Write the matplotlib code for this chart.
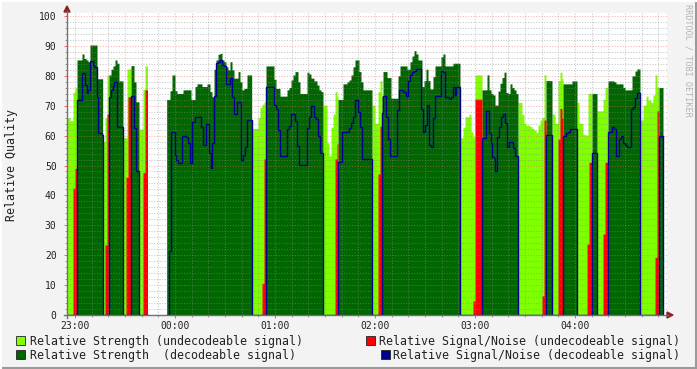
import numpy as np
import matplotlib
matplotlib.use("Agg")
import matplotlib.pyplot as plt
from matplotlib.patches import Rectangle, Polygon
from matplotlib.lines import Line2D

# ---------------- data (time = minutes after 23:00) ----------------
seg_start = [-4.8, 1.2, 16.6, 20.4, 28.8, 33.6, 38.4, 55.0, 106.0, 114.6, 148.8, 157.8, 178.2,
             184.2, 231.0, 244.2, 265.8, 282.6, 286.2, 292.8, 301.2, 310.2, 313.2, 319.8, 339.0, 350.4]
seg_end = [1.2, 16.6, 20.4, 28.8, 33.6, 38.4, 43.5, 106.0, 114.6, 148.8, 157.8, 178.2, 184.2,
           231.0, 244.2, 265.8, 282.6, 286.2, 292.8, 301.2, 310.2, 313.2, 319.8, 339.0, 350.4, 352.8]
seg_decodeable = [0, 1, 0, 1, 0, 1, 0, 1, 0, 1, 0, 1, 0, 1, 0, 1, 0, 1, 0, 1, 0, 1, 0, 1, 0, 1]

strength_t = [-4.8, -3.0, -1.2, 0.0, 1.2, 4.2, 5.4, 6.6, 7.8, 9.0, 13.2, 16.6, 18.0, 19.2, 20.4,
              21.6, 22.8, 24.0, 25.2, 26.4, 28.8, 31.2, 33.6, 35.4, 36.6, 38.4, 40.8, 42.0, 43.5,
              55.0, 57.0, 58.2, 60.0, 61.2, 64.8, 69.6, 72.0, 73.2, 76.2, 79.2, 81.0, 82.2, 83.4,
              84.6, 85.8, 87.0, 88.2, 89.4, 90.6, 91.8, 93.0, 94.2, 95.4, 97.8, 99.0, 100.2, 101.4,
              103.2, 106.0, 109.8, 111.0, 112.2, 113.4, 114.6, 119.4, 120.6, 123.0, 127.2, 128.4,
              129.6, 130.8, 132.0, 133.8, 135.0, 139.2, 140.4, 141.6, 143.4, 145.2, 146.4, 147.6,
              148.8, 151.2, 152.4, 153.6, 154.8, 156.0, 157.2, 157.8, 160.8, 163.2, 164.4, 165.6,
              166.8, 168.0, 170.4, 171.6, 172.8, 178.2, 180.0, 181.8, 183.0, 184.2, 184.8, 187.2,
              189.6, 193.8, 195.0, 199.2, 201.0, 202.2, 203.4, 204.6, 205.8, 208.2, 209.4, 210.6,
              211.8, 213.0, 214.8, 216.0, 219.6, 220.8, 222.0, 226.8, 231.0, 232.8, 234.0, 236.4,
              237.6, 238.8, 240.0, 244.2, 247.2, 248.4, 249.6, 250.8, 252.0, 253.8, 255.0, 256.2,
              257.4, 258.6, 259.8, 261.0, 262.2, 263.4, 264.6, 265.8, 268.2, 269.4, 270.6, 273.0,
              274.2, 275.4, 276.6, 277.8, 279.0, 280.2, 281.4, 282.6, 286.2, 288.0, 289.8, 291.0,
              292.2, 292.8, 298.2, 301.2, 302.4, 304.8, 306.0, 307.8, 313.2, 316.8, 318.0, 319.8,
              323.4, 324.6, 328.8, 330.0, 334.2, 336.0, 337.2, 339.0, 340.8, 342.6, 343.8, 345.6,
              346.8, 348.0, 349.2, 352.8]
strength_v = [66, 65, 74.5, 76, 85.3, 87.3, 85.8, 85.3, 84.7, 90.3, 79, 58, 66, 80.3, 80.3,
              82.2, 83.3, 85.3, 84.2, 78.3, 59.3, 82.3, 83.4, 78, 71.3, 62.2, 75.5, 83.3, np.nan,
              72.1, 75, 80.3, 75, 74.1, 75.3, 72.1, 76.4, 77.3, 76.4, 77.3, 74.7, 73, 82.2,
              85.3, 87.2, 87.5, 85.3, 84.7, 83, 82, 84.7, 82, 79.2, 81.4, 78, 75.3, 75.8,
              80.3, 62.4, 66, 69.5, 70.5, 71.3, 83.3, 78.8, 75.8, 73.2, 75.3, 76.1,
              78.6, 80.3, 81.4, 78, 74.1, 81.2, 80.6, 79.2, 78.3, 76.9, 75.3, 74.7,
              70.2, 57.6, 53.3, 62.8, 67.2, 74.7, 73.2, 72.1, 77.3, 78, 78.6, 80.3,
              83, 85.3, 81.4, 78, 75.3, 70.2, 64.1, 74.7, 78.4, 73.2, 81.4, 79.4,
              72.5, 80, 83.3, 82.2, 84.7, 86.6, 88.4, 87.3, 85.3, 76.4, 78.4, 82.2,
              78.4, 75.6, 79.7, 83.3, 86.4, 87.3, 83.3, 84.2, 59.3, 62.8, 66.3, 67.1,
              61.3, 59.6, 80.3, 75.3, 80.3, 75.3, 74.1, 73.6, 70.2, 74.9, 77.5, 79.4,
              81.2, 74.4, 74.1, 77.3, 76.1, 75.3, 74.1, 71.1, 67.1, 64.1, 63.5, 63,
              62.4, 61.9, 61.1, 63.5, 65.2, 66.1, 80.3, 78.4, 67.2, 64.1, 78.4, 81.2,
              79, 77.3, 78.3, 71.1, 64.1, 60.4, 60.2, 74.1, 68.3, 72.1, 76.1, 78.3,
              78, 77.3, 76.1, 75.3, 80, 81.6, 82.3, 65.2, 70.2, 73.2, 71.9, 71.1,
              73.6, 80.3, 76.1, np.nan]

snr_t = [-4.8, -1.2, 0.0, 1.2, 4.2, 6.0, 6.9, 7.2, 7.8, 9.0, 10.8, 11.4, 13.2, 13.8, 16.2,
         16.6, 18.0, 19.2, 20.4, 21.6, 22.8, 23.4, 25.2, 28.8, 30.6, 31.8, 33.6, 35.4, 36.6,
         38.4, 40.8, 42.0, 43.5, 55.0, 56.4, 57.6, 60.0, 60.6, 61.8, 64.2, 66.6, 67.8, 69.0,
         70.2, 72.0, 75.6, 76.8, 78.6, 80.4, 81.6, 82.2, 83.4, 84.6, 85.8, 87.0, 88.2, 89.4,
         90.6, 93.0, 94.2, 95.4, 97.2, 99.6, 100.8, 102.0, 103.2, 106.0, 112.2, 113.4, 114.6,
         119.4, 120.6, 121.8, 123.0, 127.2, 128.4, 129.6, 132.0, 133.2, 134.4, 139.2, 140.4,
         141.6, 143.4, 144.6, 145.8, 147.0, 148.8, 156.0, 157.2, 157.8, 160.2, 164.4, 165.6,
         166.8, 168.0, 169.8, 171.0, 172.2, 178.2, 181.8, 183.0, 184.2, 184.8, 186.6, 187.8,
         189.0, 193.2, 194.4, 196.8, 198.6, 199.8, 201.0, 202.2, 203.4, 204.6, 205.8, 207.6,
         208.8, 210.0, 211.2, 212.4, 213.6, 214.8, 216.0, 219.6, 220.8, 222.0, 224.4, 225.6,
         226.8, 228.0, 228.6, 231.0, 238.8, 240.0, 244.2, 246.6, 248.4, 249.6, 250.2, 251.4,
         252.0, 253.2, 254.4, 255.6, 256.8, 258.0, 259.2, 260.4, 262.8, 264.0, 265.8, 280.2,
         281.4, 282.6, 286.2, 289.8, 291.0, 292.2, 292.8, 294.6, 295.8, 297.0, 301.2, 307.2,
         308.4, 310.2, 313.2, 316.8, 318.0, 319.8, 322.2, 323.4, 324.6, 326.4, 327.6, 328.8,
         330.0, 331.2, 333.6, 334.8, 336.0, 337.2, 339.0, 348.0, 349.2, 350.4, 352.8]
snr_v = [0, 42.4, 49, 72, 81, 77, 76, 74.4, 75.3, 85, 83.6, 83, 72.8, 61, 60.2,
         0, 23.4, 67.2, 73, 75.3, 76.5, 78, 63, 0, 46, 73, 73.2, 62.5, 48,
         0, 47.6, 75.3, np.nan, 0, 21.5, 61.1, 53.5, 51.8, 51, 60, 59.4, 57.4, 51,
         64.4, 66.1, 63, 57, 64, 54.3, 49, 57.4, 73.2, 84.4, 84.7, 85.3, 83.6, 83.3,
         77.3, 79.2, 73, 67.2, 71.2, 52, 53.5, 56.3, 65.2, 0, 10.6, 52.2, 76.1,
         70.2, 68.9, 61.9, 53.2, 62.1, 63.3, 67.1, 65, 56.5, 50.2, 62.7, 66.3,
         70, 66.1, 65.4, 59.9, 54.1, 0, 52.2, 57.2, 51.3, 61.1, 62.4, 64.3,
         66.3, 71.9, 67.8, 63, 52.1, 0, 47.2, 63.2, 67.7, 73.2, 66.1, 58.9,
         53.2, 68.6, 75.3, 74.7, 73.2, 78.4, 80.3, 81.2, 81.6, 82.4, 82.2, 68.8,
         61.3, 63.5, 70.2, 56.9, 56.3, 65.8, 73.2, 81.7, 81.2, 73, 72.1, 73,
         76.1, 73.6, 76.1, 0, 4.7, 72.2, 59.1, 68.2, 60.8, 57.4, 53, 52.4,
         48.2, 59.6, 62.8, 66.1, 67.1, 64.3, 56.3, 58, 55.7, 53.2, 0, 6.4,
         65.2, 60.2, 0, 58.8, 69.1, 65.8, 60, 60.8, 61.3, 62.1, 0, 23.7,
         51.1, 54.1, 0, 27.1, 51.1, 61.1, 63, 62.1, 53.2, 58.8, 60, 57.4,
         56.9, 56.1, 68.8, 69.5, 72.5, 74.1, 0, 19.3, 68.3, 60, np.nan]

hour_pos = [0, 60, 120, 180, 240, 300]
hour_labels = ["23:00", "00:00", "01:00", "02:00", "03:00", "04:00"]
y_ticks = [0, 10, 20, 30, 40, 50, 60, 70, 80, 90, 100]

legend_labels = ["Relative Strength (undecodeable signal)",
                 "Relative Strength  (decodeable signal)",
                 "Relative Signal/Noise (undecodeable signal)",
                 "Relative Signal/Noise (decodeable signal)"]

C_LG = "#7FFF00"
C_DG = "#006600"
C_RED = "#FF0000"
C_BLUE = "#000090"

# ---------------- build step series ----------------
edges = np.unique(np.concatenate([strength_t, snr_t, seg_start, seg_end]))
mids = (edges[:-1] + edges[1:]) / 2
st_t = np.array(strength_t); st_v = np.array(strength_v, float)
sn_t = np.array(snr_t); sn_v = np.array(snr_v, float)
strength = st_v[np.clip(np.searchsorted(st_t, mids, side="right") - 1, 0, None)]
snr = sn_v[np.clip(np.searchsorted(sn_t, mids, side="right") - 1, 0, None)]
state = np.full(mids.shape, -1)
for s0, s1, d in zip(seg_start, seg_end, seg_decodeable):
    state[(mids >= s0) & (mids < s1)] = d

lg = np.where(state == 0, strength, 0.0)
dg = np.where(state == 1, strength, 0.0)
red = np.where(state == 0, snr, 0.0)
blue = np.where(state == 1, snr, np.where(state == 0, 0.0, np.nan))

xs = np.repeat(edges, 2)[1:-1]
def rep(v):
    return np.nan_to_num(np.repeat(v, 2), nan=0.0)

# ---------------- figure ----------------
W, H = 697, 369
fig = plt.figure(figsize=(W / 100, H / 100), dpi=100, facecolor="#F3F3F3")

def fx(x):
    return x / W
def fy(y):
    return 1 - y / H

ax = fig.add_axes([fx(67), fy(315), 600 / W, 302 / H])
ax.set_facecolor("white")
ax.set_xlim(-4.8, 355.2)
ax.set_ylim(0, 100 * 302 / 299)

ax.fill_between(xs, 0, rep(lg), color=C_LG, lw=0, zorder=1)
ax.fill_between(xs, 0, rep(dg), color=C_DG, lw=0, zorder=1)
ax.fill_between(xs, 0, rep(red), color=C_RED, lw=0, zorder=2)

# grid over the data (rrdtool style, translucent dotted)
minor_col = (0.55, 0.55, 0.55, 0.5)
major_col = (1.0, 0.4, 0.4, 0.5)
for v in np.arange(2, 101, 2):
    ax.axhline(v, color=major_col if v % 10 == 0 else minor_col,
               lw=0.75, ls=(0, (1, 1.6)), zorder=3)
for m in np.arange(0, 355, 10):
    ax.axvline(m, color=major_col if m % 30 == 0 else minor_col,
               lw=0.75, ls=(0, (1, 1.6)), zorder=3)

ax.plot(xs, np.repeat(blue, 2), color=C_BLUE, lw=1.0, zorder=4, solid_joinstyle="miter")
end_t = seg_end[-1]
ax.vlines(end_t, 0, snr[-1] if state[-1] == 1 else 0, color=C_BLUE, lw=1.0, zorder=4)

for sp in ax.spines.values():
    sp.set_visible(False)

ax.set_yticks(y_ticks)
ax.set_yticklabels([str(v) for v in y_ticks], family="DejaVu Sans Mono", fontsize=7, color="#222222")
ax.set_yticks(np.arange(0, 101, 2), minor=True)
ax.set_xticks(hour_pos)
ax.set_xticklabels(hour_labels, family="DejaVu Sans Mono", fontsize=7, color="#222222")
ax.set_xticks(np.arange(0, 355, 10), minor=True)
ax.tick_params(axis="both", which="major", length=2.5, width=0.7, color="#FF6060", pad=2)
ax.tick_params(axis="both", which="minor", length=1.5, width=0.7, color="#999999")
ax.tick_params(axis="y", which="major", pad=5)

# axis lines with arrows
axis_col = "#707070"
fig.add_artist(Line2D([fx(67), fx(67)], [fy(318), fy(11)], color=axis_col, lw=1.0))
fig.add_artist(Line2D([fx(64), fx(668)], [fy(315), fy(315)], color=axis_col, lw=1.0))
arrow_col = "#8B2020"
fig.add_artist(Polygon([[fx(64), fy(12)], [fx(70), fy(12)], [fx(67), fy(6)]],
                       closed=True, color=arrow_col, transform=fig.transFigure))
fig.add_artist(Polygon([[fx(667), fy(312)], [fx(667), fy(318)], [fx(673), fy(315)]],
                       closed=True, color=arrow_col, transform=fig.transFigure))

# labels
fig.text(fx(12), fy(165), "Relative Quality", rotation=90, ha="center", va="center",
         family="DejaVu Sans Mono", fontsize=8.4, color="#222222")
fig.text(fx(688), fy(4), "RRDTOOL / TOBI OETIKER", rotation=270, ha="center", va="top",
         family="DejaVu Sans Mono", fontsize=6.1, color="#B4B4B4")

# legend
def swatch(x, y, col):
    fig.add_artist(Rectangle((fx(x), fy(y + 9)), 9 / W, 9 / H, facecolor=col,
                             edgecolor="#222222", lw=0.6, transform=fig.transFigure))

swatch(16, 336, C_LG)
fig.text(fx(30), fy(341), legend_labels[0], ha="left", va="center",
         family="DejaVu Sans Mono", fontsize=8.35, color="#222222")
swatch(16, 350, C_DG)
fig.text(fx(30), fy(355), legend_labels[1], ha="left", va="center",
         family="DejaVu Sans Mono", fontsize=8.35, color="#222222")
swatch(366, 336, C_RED)
fig.text(fx(680), fy(341), legend_labels[2], ha="right", va="center",
         family="DejaVu Sans Mono", fontsize=8.35, color="#222222")
swatch(381, 350, C_BLUE)
fig.text(fx(680), fy(355), legend_labels[3], ha="right", va="center",
         family="DejaVu Sans Mono", fontsize=8.35, color="#222222")

# frame shading
fig.add_artist(Line2D([0, 1], [fy(368), fy(368)], color="#9A9A9A", lw=1.5))
fig.add_artist(Line2D([fx(696), fx(696)], [0, 1], color="#9A9A9A", lw=1.5))
fig.add_artist(Line2D([0, 1], [fy(0.5), fy(0.5)], color="#FFFFFF", lw=1.5))
fig.add_artist(Line2D([fx(0.5), fx(0.5)], [0, 1], color="#FFFFFF", lw=1.5))

fig.savefig("out.png", dpi=100, facecolor=fig.get_facecolor())
